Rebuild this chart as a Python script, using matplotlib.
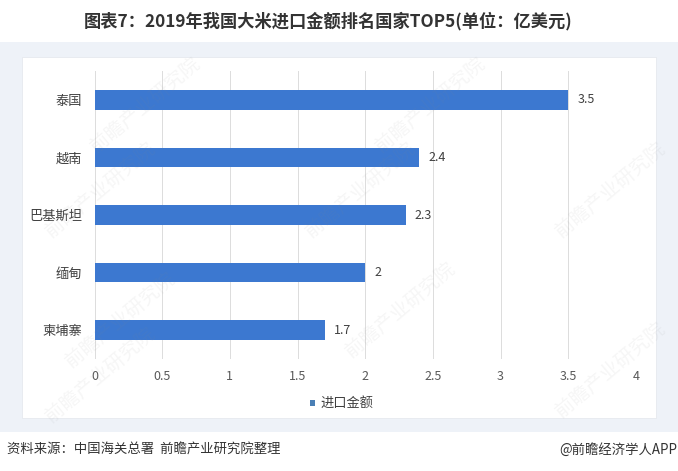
import matplotlib
matplotlib.use("Agg")
import matplotlib.pyplot as plt
from matplotlib.patches import Rectangle

plt.rcParams['font.family'] = ['Noto Sans CJK SC', 'DejaVu Sans']

countries = ['泰国', '越南', '巴基斯坦', '缅甸', '柬埔寨']
values = [3.5, 2.4, 2.3, 2, 1.7]
value_labels = ['3.5', '2.4', '2.3', '2', '1.7']
xticks = [0, 0.5, 1, 1.5, 2, 2.5, 3, 3.5, 4]
xtick_labels = ['0', '0.5', '1', '1.5', '2', '2.5', '3', '3.5', '4']
title = '图表7：2019年我国大米进口金额排名国家TOP5(单位：亿美元)'
legend_label = '进口金额'
source = '资料来源：中国海关总署  前瞻产业研究院整理'
credit = '@前瞻经济学人APP'
watermark = '前瞻产业研究院'

W, H = 678, 471
fig = plt.figure(figsize=(W / 100, H / 100), dpi=100, facecolor='white')

def fx(p): return p / W
def fy(p): return 1 - p / H

fig.add_artist(Rectangle((0, fy(432)), 1, (432 - 42) / H, transform=fig.transFigure,
                         fc='#eef2f8', ec='none', zorder=-2))
fig.add_artist(Rectangle((fx(22), fy(418)), (656 - 22) / W, (418 - 57) / H, transform=fig.transFigure,
                         fc='white', ec='#e6e9ee', lw=0.6, zorder=-1))

ax = fig.add_axes([fx(94.5), fy(359), (636 - 94.5) / W, (359 - 71) / H], zorder=2)
ax.patch.set_alpha(0)
positions = list(range(len(countries)))
bars = ax.barh(positions, values, height=0.34, color='#3c78d0', zorder=3)
ax.set_ylim(4.5, -0.5)
ax.set_xlim(0, 4)
ax.set_xticks(xticks, xtick_labels)
ax.set_yticks(positions, countries)
ax.grid(axis='x', color='#dcdcdc', lw=0.7, zorder=1)
ax.set_axisbelow(True)
for s in ax.spines.values():
    s.set_visible(False)
ax.tick_params(axis='x', length=0, pad=8, labelsize=9, labelcolor='#595959')
ax.tick_params(axis='y', length=0, pad=9, labelsize=9.5, labelcolor='#404040')
for p, v, lab in zip(positions, values, value_labels):
    ax.annotate(lab, (v, p), xytext=(6.5, 0), textcoords='offset points', va='center', ha='left',
                fontsize=9, color='#404040', zorder=4)

fig.text(fx(328), fy(21), title, fontsize=12.4, fontweight='bold', color='#333333',
         ha='center', va='center')

fig.add_artist(Rectangle((fx(309.5), fy(405.5)), 5 / W, 5.5 / H, transform=fig.transFigure,
                         fc='#4a7fb5', ec='none', zorder=3))
fig.text(fx(320), fy(403), legend_label, fontsize=9.5, color='#404040', ha='left', va='center')
fig.text(fx(7), fy(450), source, fontsize=9.6, color='#333333', ha='left', va='center')
fig.text(fx(677), fy(450), credit, fontsize=9.6, color='#333333', ha='right', va='center')

for px, py in [(145, 105), (430, 105), (100, 190), (360, 190), (610, 190),
               (120, 320), (400, 310), (100, 375), (610, 370)]:
    fig.text(fx(px), fy(py), watermark, fontsize=14, color='#8a8a8a', alpha=0.08, rotation=40,
             ha='center', va='center', zorder=5)

fig.savefig('out.png', dpi=100)
